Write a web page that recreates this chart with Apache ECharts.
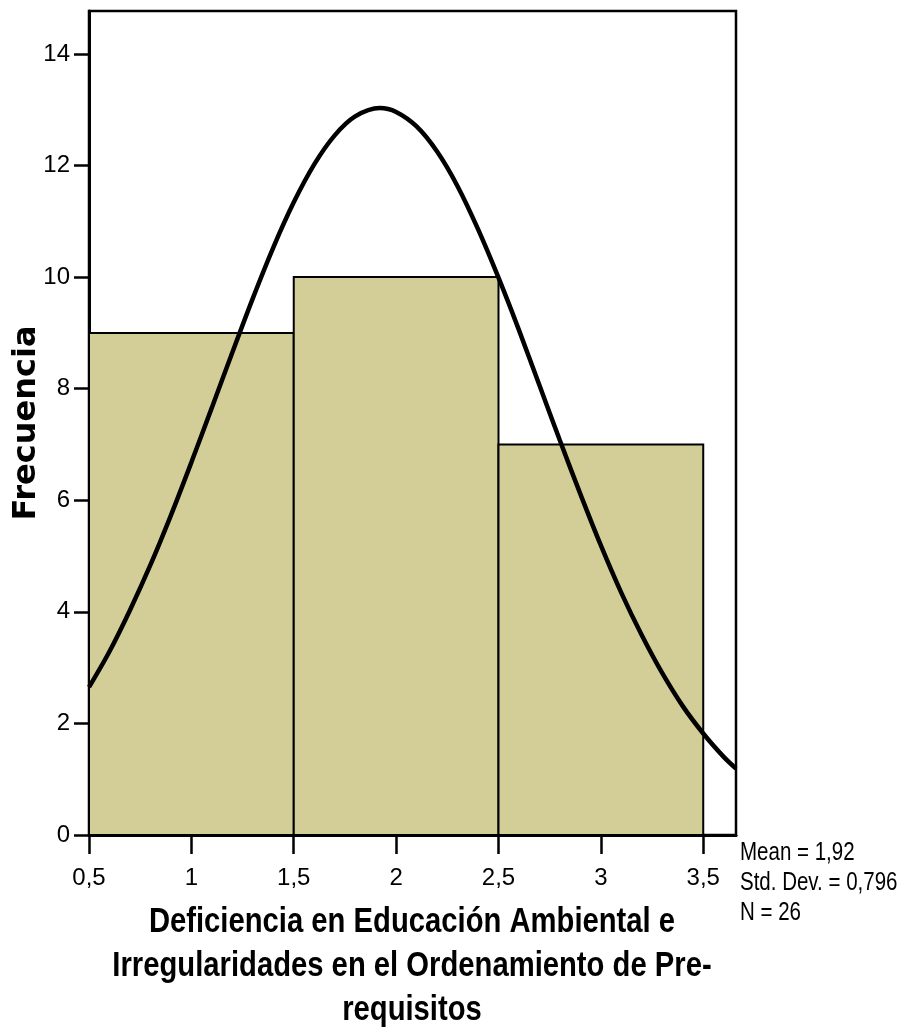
<!DOCTYPE html>
<html>
<head>
<meta charset="utf-8">
<script src="https://cdn.jsdelivr.net/npm/echarts@6/dist/echarts.min.js"></script>
<style>
html,body{margin:0;padding:0;background:#fff;}
#chart{width:908px;height:1032px;}
</style>
</head>
<body>
<div id="chart"></div>
<script>
// Histogram bins
var binStart = [0.5, 1.5, 2.5];
var binEnd = [1.5, 2.5, 3.5];
var binCount = [9, 10, 7];

// Normal curve points
var curveX = [0.5,0.6,0.7,0.8,0.9,1.0,1.1,1.2,1.3,1.4,1.5,1.6,1.7,1.8,1.92,2.0,2.1,2.2,2.3,2.4,2.5,2.6,2.7,2.8,2.9,3.0,3.1,3.2,3.3,3.4,3.5,3.6,3.66];
var curveY = [2.65,3.29,4.03,4.84,5.73,6.68,7.66,8.65,9.62,10.53,11.34,12.02,12.54,12.88,13.03,12.96,12.70,12.25,11.63,10.86,9.99,9.05,8.06,7.07,6.11,5.19,4.34,3.58,2.90,2.31,1.82,1.40,1.19];

// Tick labels
var xTicks = [0.5, 1, 1.5, 2, 2.5, 3, 3.5];
var yTicks = [0, 2, 4, 6, 8, 10, 12, 14];

var statsText = ['Mean = 1,92', 'Std. Dev. = 0,796', 'N = 26'];
var xTitle = ['Deficiencia en Educación Ambiental e', 'Irregularidades en el Ordenamiento de Pre-', 'requisitos'];
var yTitle = 'Frecuencia';

var sans = '"Liberation Sans", Arial, sans-serif';

var chart = echarts.init(document.getElementById('chart'), null, {renderer: 'canvas'});

var barData = binStart.map(function (s, i) { return [s, binEnd[i], binCount[i]]; });
var lineData = curveX.map(function (x, i) { return [x, curveY[i]]; });

var option = {
  backgroundColor: '#ffffff',
  animation: false,
  grid: {
    left: 89, top: 11, right: 172, bottom: 197,
    outerBoundsMode: 'none',
    containLabel: false,
    show: true, borderColor: '#000', borderWidth: 2.5, backgroundColor: 'transparent'
  },
  xAxis: {
    type: 'value',
    min: 0.5, max: 3.66,
    interval: 0.5,
    axisLine: {show: true, onZero: false, lineStyle: {color: '#000', width: 3}},
    axisTick: {show: true, length: 19, customValues: xTicks, lineStyle: {color: '#000', width: 2.5}},
    axisLabel: {
      customValues: xTicks,
      margin: 31, fontFamily: sans, fontSize: 24, color: '#000',
      formatter: function (v) { return String(v).replace('.', ','); }
    },
    splitLine: {show: false}
  },
  yAxis: {
    type: 'value',
    min: 0, max: 14.77,
    interval: 2,
    name: yTitle,
    nameLocation: 'middle',
    nameGap: 46,
    nameRotate: 90,
    nameMoveOverlap: false,
    nameTextStyle: {
      fontFamily: '"DejaVu Sans", "Liberation Sans", Arial, sans-serif', fontWeight: 'bold', fontSize: 32, color: '#000'
    },
    axisLine: {show: true, lineStyle: {color: '#000', width: 3}},
    axisTick: {show: true, length: 15, customValues: yTicks, lineStyle: {color: '#000', width: 2.5}},
    axisLabel: {
      customValues: yTicks,
      margin: 19, fontFamily: sans, fontSize: 24, color: '#000'
    },
    splitLine: {show: false}
  },
  series: [
    {
      type: 'custom',
      z: 2,
      data: barData,
      encode: {x: [0, 1], y: 2},
      renderItem: function (params, api) {
        var p0 = api.coord([api.value(0), api.value(2)]);
        var p1 = api.coord([api.value(1), 0]);
        return {
          type: 'rect',
          shape: {x: p0[0], y: p0[1], width: p1[0] - p0[0], height: p1[1] - p0[1]},
          style: {fill: '#d3ce98', stroke: '#000', lineWidth: 2}
        };
      }
    },
    {
      type: 'line',
      z: 3,
      data: lineData,
      smooth: 0.3,
      showSymbol: false,
      symbol: 'none',
      lineStyle: {color: '#000', width: 4.5},
      clip: true
    }
  ],
  graphic: [
    {
      type: 'text',
      x: 412,
      y: 966,
      scaleX: 0.835,
      style: {
        text: xTitle.join('\n'),
        x: 0, y: 0,
        align: 'center', verticalAlign: 'middle',
        fontFamily: sans, fontWeight: 'bold', fontSize: 35, lineHeight: 44, fill: '#000'
      }
    },
    {
      type: 'text',
      x: 740,
      y: 883,
      scaleX: 0.82,
      style: {
        text: statsText.join('\n'),
        x: 0, y: 0,
        align: 'left', verticalAlign: 'middle',
        fontFamily: sans, fontSize: 25, lineHeight: 30, fill: '#000'
      }
    }
  ]
};

chart.setOption(option);
</script>
</body>
</html>
